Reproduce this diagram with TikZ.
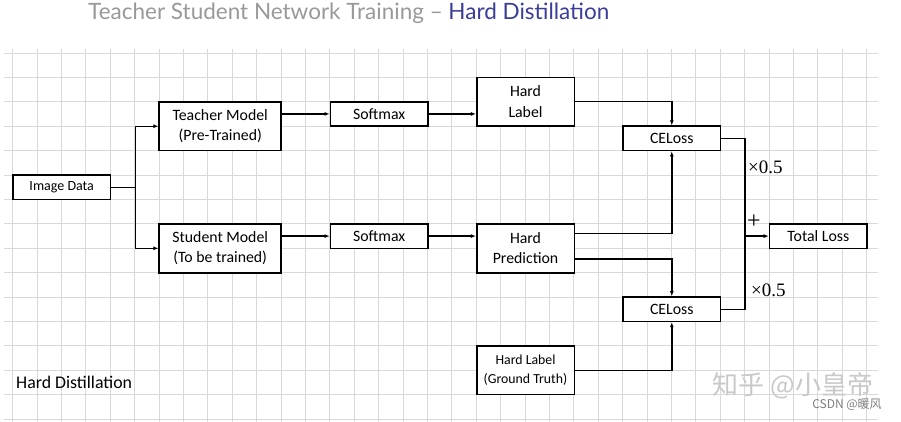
\documentclass[tikz,border=0pt]{standalone}
\usepackage{fontspec}
\usepackage{xcolor}
\setmainfont{Carlito}
\newfontfamily\titlefont{Lato}
\newfontfamily\seriffont{Liberation Serif}
\newfontfamily\cjkfont{Noto Sans CJK SC}
\usetikzlibrary{arrows.meta}
\definecolor{grid-gray}{HTML}{D9D9D9}
\definecolor{title-gray}{HTML}{999999}
\definecolor{title-blue}{HTML}{3A3D9A}
\definecolor{mark-gray}{HTML}{C9C9C9}
\tikzset{
    flow-box/.style = {draw=black, fill=white, line width=1.6pt, rectangle, minimum width=97.6pt, minimum height=24.4pt, inner sep=0pt, align=center, font=\fontsize{15.8}{20.5}\selectfont},
    tall-box/.style = {flow-box, minimum height=48.8pt},
    wide-box/.style = {tall-box, minimum width=122pt},
    small-box/.style = {tall-box, font=\fontsize{13.8}{19}\selectfont},
    flow-line/.style = {draw=black, line width=1.4pt},
    flow-arrow/.style = {flow-line, -{Latex[length=5pt,width=4pt]}},
    weight-text/.style = {font=\seriffont\fontsize{19}{19}\selectfont, inner sep=0pt},
    grid-line/.style = {draw=grid-gray, line width=1pt},
}

\begin{document}
\begin{tikzpicture}[x=1pt, y=-1pt]
\useasboundingbox (0,0) rectangle (901,421);
\fill[white] (0,0) rectangle (901,421);
% grid paper
\begin{scope}
\clip (4,49) rectangle (878,421);
\foreach \i in {-1,...,36} \draw[grid-line] ({12.7+24.4*\i},40) -- ++(0,400);
\foreach \j in {0,...,15} \draw[grid-line] (0,{53+24.4*\j}) -- ++(890,0);
\end{scope}

\node[anchor=west, inner sep=0pt, text=title-gray, font=\titlefont\fontsize{22.5}{22.5}\selectfont] (title) at (88,13) {Teacher Student Network Training – \textcolor{title-blue}{Hard Distillation}};

\node[flow-box, font=\fontsize{14}{17}\selectfont] (image) at (61.7,187.2) {Image Data};
\node[wide-box] (teacher) at (220.2,126.2) {Teacher Model\\(Pre-Trained)};
\node[wide-box] (student) at (220.2,248.3) {Student Model\\(To be trained)};
\node[flow-box] (soft-t) at (379.2,113.9) {Softmax};
\node[flow-box] (soft-s) at (379.2,236.1) {Softmax};
\node[tall-box] (hard-label) at (525.5,101.7) {Hard\\Label};
\node[tall-box] (hard-pred) at (525.5,248.3) {Hard\\Prediction};
\node[small-box] (gt-label) at (525.5,370.2) {Hard Label\\(Ground Truth)};
\node[flow-box] (ce-top) at (671.8,138.4) {CELoss};
\node[flow-box] (ce-bot) at (671.8,309.2) {CELoss};
\node[flow-box] (total) at (818.3,236.1) {Total Loss};

\node[anchor=west, inner sep=0pt, font=\fontsize{17.8}{20}\selectfont] (mode) at (16,382.7) {Hard Distillation};
\node[weight-text, anchor=west] (w-top) at (748,167.3) {×0.5};
\node[weight-text, anchor=west] (w-bot) at (751,290) {×0.5};
\node[weight-text, anchor=west, font=\seriffont\fontsize{24}{24}\selectfont] (plus) at (747,222) {+};

% connectors
\coordinate (split) at (135.3,187.2);
\draw[flow-line] (image) -- (split);
\draw[flow-arrow] (split) |- (teacher.west);
\draw[flow-arrow] (split) |- (student.west);
\draw[flow-arrow] (teacher.east |- soft-t.west) -- (soft-t.west);
\draw[flow-arrow] (student.east |- soft-s.west) -- (soft-s.west);
\draw[flow-arrow] (soft-t.east) -- (hard-label.west |- soft-t.east);
\draw[flow-arrow] (soft-s.east) -- (hard-pred.west |- soft-s.east);
\draw[flow-arrow] (hard-label.east) -| (ce-top.north);
\draw[flow-arrow] ([yshift=15pt]hard-pred.east) -| (ce-top.south);
\draw[flow-arrow] ([yshift=-10.7pt]hard-pred.east) -| (ce-bot.north);
\draw[flow-arrow] (gt-label.east) -| (ce-bot.south);
\coordinate (sum) at (745,236.1);
\draw[flow-line] (ce-top.east) -| (sum);
\draw[flow-line] (ce-bot.east) -| (sum);
\draw[flow-arrow, line width=2pt] (sum) -- (total.west);

% watermarks
\node[text=mark-gray, font=\cjkfont\fontsize{26}{26}\selectfont, inner sep=0pt] (mark) at (793,386) {知乎 @小皇帝};
\node[text=gray, font=\cjkfont\fontsize{12}{12}\selectfont, inner sep=0pt] (csdn) at (847,405) {CSDN @暖风};
\end{tikzpicture}
\end{document}
